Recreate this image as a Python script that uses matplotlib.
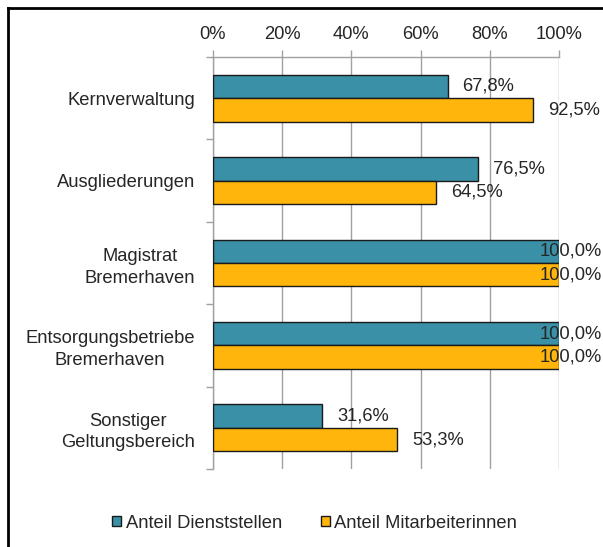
import matplotlib
matplotlib.use("Agg")
import matplotlib.pyplot as plt
from matplotlib.lines import Line2D
from matplotlib.patches import Patch
import numpy as np

categories = ["Kernverwaltung", "Ausgliederungen", "Magistrat\nBremerhaven",
              "Entsorgungsbetriebe\nBremerhaven", "Sonstiger\nGeltungsbereich"]
dienststellen = [67.8, 76.5, 100.0, 100.0, 31.6]
mitarbeiterinnen = [92.5, 64.5, 100.0, 100.0, 53.3]
series_names = ["Anteil Dienststellen", "Anteil Mitarbeiterinnen"]
xticks = [0, 20, 40, 60, 80, 100]

TEAL = "#3A90A6"
ORANGE = "#FFB50B"
TXT = "#262626"
GRID = "#A0A0A0"

plt.rcParams['font.family'] = ['Liberation Sans', 'DejaVu Sans']
FS = 13.2

W, H = 603, 547
fig = plt.figure(figsize=(W / 100, H / 100), dpi=100)
ax = fig.add_axes([213 / W, 1 - 469 / H, (559 - 213) / W, (469 - 57) / H])

y = np.arange(len(categories))
h = 0.285
b1 = ax.barh(y - h / 2, dienststellen, height=h, color=TEAL, edgecolor="#1a1a1a", linewidth=1.0, zorder=3)
b2 = ax.barh(y + h / 2, mitarbeiterinnen, height=h, color=ORANGE, edgecolor="#1a1a1a", linewidth=1.0, zorder=3)

ax.set_xlim(0, 100)
ax.set_ylim(len(categories) - 0.5, -0.5)

ax.xaxis.tick_top()
ax.set_xticks(xticks)
ax.set_xticklabels([f"{t}%" for t in xticks], fontsize=FS, color=TXT)
ax.tick_params(axis='x', direction='out', length=5, width=1, color=GRID, pad=5)
ax.grid(axis='x', color=GRID, linewidth=1, zorder=0)

ax.set_yticks(y)
ax.set_yticklabels(categories, fontsize=FS, color=TXT, multialignment='center', linespacing=1.35)
ax.set_yticks(np.arange(len(categories) + 1) - 0.5, minor=True)
ax.tick_params(axis='y', which='major', length=0, pad=13)
ax.tick_params(axis='y', which='minor', direction='out', length=5, width=1, color=GRID)

for s in ['right', 'bottom']:
    ax.spines[s].set_visible(False)
for s in ['top', 'left']:
    ax.spines[s].set_color(GRID)
    ax.spines[s].set_linewidth(1)

def fmt(v):
    return f"{v:.1f}%".replace(".", ",")

texts = []
for bars, vals in [(b1, dienststellen), (b2, mitarbeiterinnen)]:
    for rect, v in zip(bars, vals):
        yc = rect.get_y() + rect.get_height() / 2
        t = ax.annotate(fmt(v), xy=(v, yc), xytext=(15, 0), textcoords="offset pixels",
                        ha='left', va='center', fontsize=FS, color=TXT, zorder=5,
                        annotation_clip=False)
        texts.append(t)

fig.canvas.draw()
r = fig.canvas.get_renderer()
for t in texts:
    bb = t.get_window_extent(r)
    if bb.x1 > W - 1:
        dx = bb.x1 - (W - 1)
        t.xyann = (15 - dx, 0)

handles = [Patch(facecolor=TEAL, edgecolor="#1a1a1a", linewidth=1),
           Patch(facecolor=ORANGE, edgecolor="#1a1a1a", linewidth=1)]
leg = fig.legend(handles, series_names, loc='center', bbox_to_anchor=(0.522, 1 - 523 / H),
                 ncol=2, frameon=False, fontsize=FS, handlelength=0.5, handleheight=0.5,
                 handletextpad=0.25, columnspacing=2.1, labelcolor=TXT)

fig.add_artist(Line2D([7.5 / W, 1], [1 - 7.5 / H, 1 - 7.5 / H], color='black', linewidth=2,
                      transform=fig.transFigure))
fig.add_artist(Line2D([7.5 / W, 7.5 / W], [0, 1 - 7.5 / H], color='black', linewidth=2,
                      transform=fig.transFigure))

fig.savefig("out.png", dpi=100)
